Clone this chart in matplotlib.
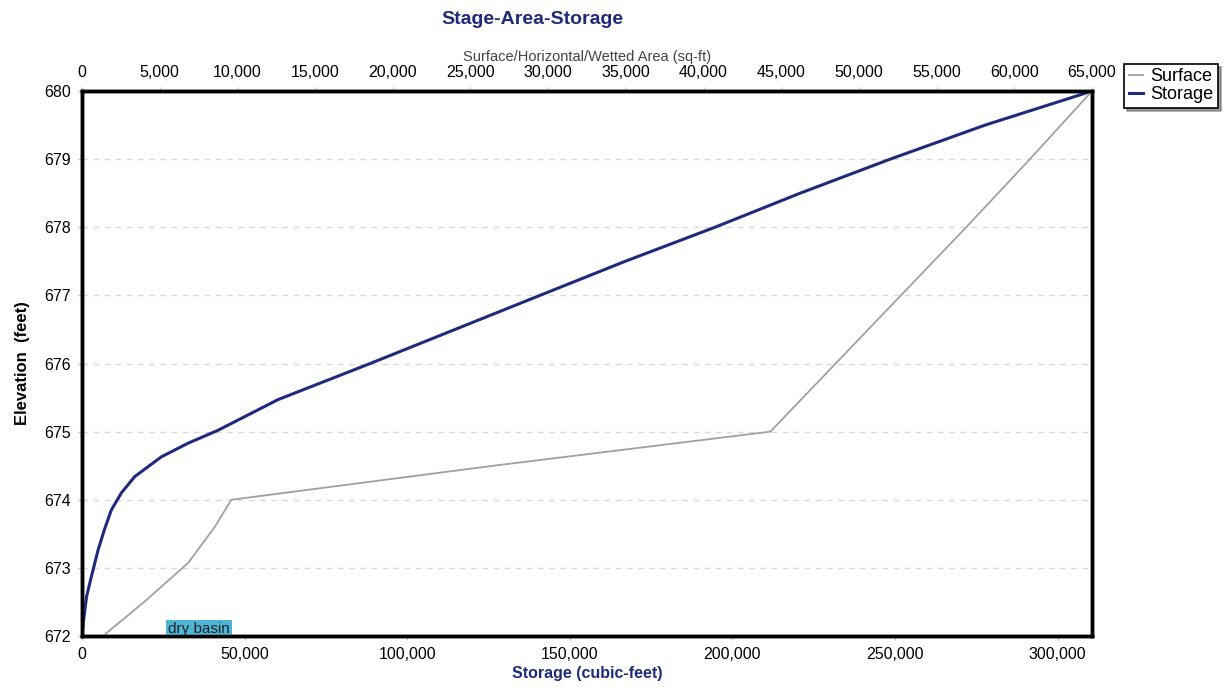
import matplotlib
matplotlib.use('Agg')
import matplotlib.pyplot as plt
from matplotlib.ticker import FuncFormatter, MultipleLocator

plt.rcParams['font.family'] = ['Liberation Sans', 'DejaVu Sans']

# elevation / storage (cubic-feet)
stor_elev = [672.0, 672.3, 672.58, 672.87, 673.26, 673.55, 673.85, 674.1,
             674.34, 674.63, 674.83, 675.02, 675.47, 676.0, 676.5, 677.0,
             677.5, 678.0, 678.5, 679.0, 679.5, 680.0]
storage = [0, 650, 1400, 2860, 4920, 6800, 9010, 12090, 16200, 24390,
           32600, 41820, 60270, 88600, 114700, 140800, 167000, 194600,
           220800, 248500, 277700, 310600]

# elevation / surface area (sq-ft)
surf_elev = [672.0, 672.5, 673.07, 673.6, 674.0, 674.5, 675.0, 676.0, 677.0,
             678.0, 679.0, 680.0]
surface = [1350, 4000, 6820, 8540, 9610, 26500, 44300, 48500, 52700,
           56900, 61000, 65000]

navy = '#1f2a7a'
fig = plt.figure(figsize=(12.3, 6.9), dpi=100)
ax = fig.add_axes([0.0667, 0.0783, 0.8211, 0.7897])

ax.plot(storage, stor_elev, color=navy, lw=2.2, label='Storage', zorder=3)
ax.set_xlim(0, 310600)
ax.set_ylim(672, 680)
ax.yaxis.set_major_locator(MultipleLocator(1))
ax.xaxis.set_major_locator(MultipleLocator(50000))
ax.xaxis.set_major_formatter(FuncFormatter(lambda v, p: f'{int(v):,}'))
ax.grid(axis='y', color='#d8d8d8', linestyle=(0, (4, 4)), lw=1)

ax2 = ax.twiny()
ax2.plot(surface, surf_elev, color='#a0a0a0', lw=1.3, label='Surface', zorder=2)
ax2.set_xlim(0, 65000)
ax2.xaxis.set_major_locator(MultipleLocator(5000))
ax2.xaxis.set_major_formatter(FuncFormatter(lambda v, p: f'{int(v):,}'))

for a in (ax, ax2):
    for s in a.spines.values():
        s.set_linewidth(2.5)
        s.set_color('black')
    a.tick_params(labelsize=11.5, length=3, color='#c0c0c0', width=1, pad=5)

ax.set_ylabel('Elevation  (feet)', fontsize=12, fontweight='bold', labelpad=10)
ax.set_xlabel('Storage (cubic-feet)', fontsize=11.5, fontweight='bold',
              color=navy, labelpad=3)
ax2.set_xlabel('Surface/Horizontal/Wetted Area (sq-ft)', fontsize=10.5,
               color='#444444', labelpad=3)
fig.text(0.433, 0.972, 'Stage-Area-Storage', ha='center', va='center',
         fontsize=14, fontweight='bold', color=navy)

ax.text(0.116, 0.0, 'dry basin', transform=ax.transAxes, ha='center',
        va='bottom', fontsize=11, color='#222222', zorder=5,
        bbox=dict(boxstyle='square,pad=0.15', fc='#4db5d6', ec='none'))

h2, l2 = ax2.get_legend_handles_labels()
h1, l1 = ax.get_legend_handles_labels()
leg = ax2.legend(h2 + h1, l2 + l1, loc='upper left', bbox_to_anchor=(1.032, 1.05),
                 fontsize=13, frameon=True, fancybox=False, shadow=True,
                 handlelength=0.8, handletextpad=0.4, borderpad=0.25,
                 labelspacing=0.05, borderaxespad=0)
leg.get_frame().set_edgecolor('black')
leg.get_frame().set_linewidth(1.2)

fig.savefig('out.png', dpi=100)
